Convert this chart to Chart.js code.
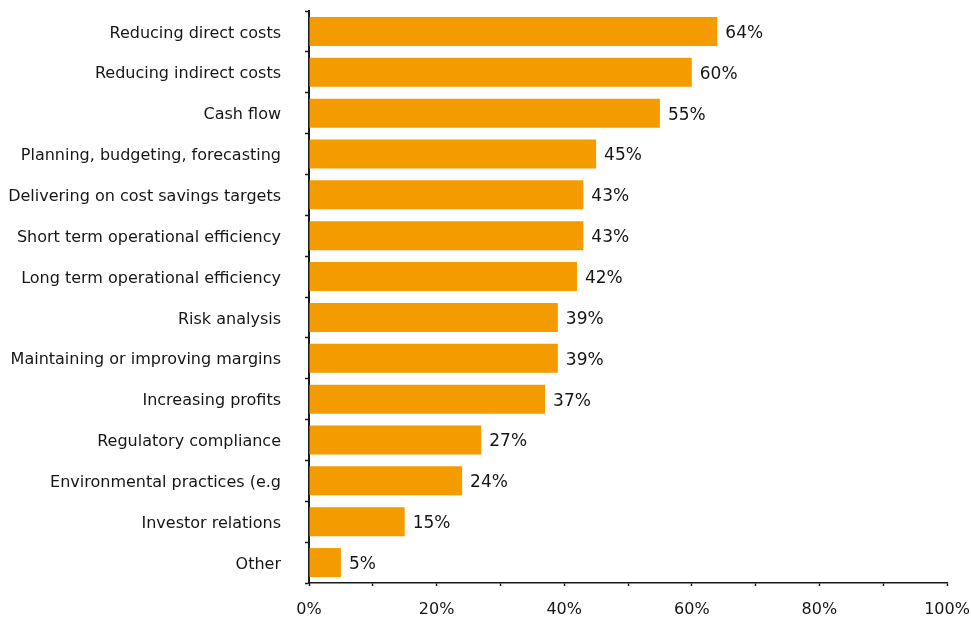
<!DOCTYPE html>
<html>
<head>
<meta charset="utf-8">
<script src="https://cdn.jsdelivr.net/npm/chart.js@4"></script>
<style>
  html, body { margin: 0; padding: 0; background: #fff; }
  #wrap { width: 971px; height: 618px; position: relative; }
</style>
</head>
<body>
<div id="wrap"><canvas id="chart"></canvas></div>
<script>
// categories and shares (percent of respondents)
const categories = [
  'Reducing direct costs',
  'Reducing indirect costs',
  'Cash flow',
  'Planning, budgeting, forecasting',
  'Delivering on cost savings targets',
  'Short term operational efficiency',
  'Long term operational efficiency',
  'Risk analysis',
  'Maintaining or improving margins',
  'Increasing profits',
  'Regulatory compliance',
  'Environmental practices (e.g',
  'Investor relations',
  'Other'
];
const shares = [64, 60, 55, 45, 43, 43, 42, 39, 39, 37, 27, 24, 15, 5];
const xTicks = [0, 20, 40, 60, 80, 100];

const FONT = '"DejaVu Sans", sans-serif';
const TEXT = '#161616';
const BAR = '#f49b00';

// value labels just past the end of each bar
const barLabels = {
  id: 'barLabels',
  afterDatasetsDraw(chart) {
    const ctx = chart.ctx;
    const meta = chart.getDatasetMeta(0);
    ctx.save();
    ctx.font = '17px ' + FONT;
    ctx.fillStyle = TEXT;
    ctx.textAlign = 'left';
    ctx.textBaseline = 'middle';
    meta.data.forEach((bar, i) => {
      ctx.fillText(shares[i] + '%', bar.x + 8, bar.y + 2);
    });
    ctx.restore();
  }
};

new Chart(document.getElementById('chart'), {
  type: 'bar',
  data: {
    labels: categories,
    datasets: [{
      data: shares,
      backgroundColor: BAR,
      borderWidth: 0,
      categoryPercentage: 1,
      barPercentage: 0.71
    }]
  },
  options: {
    indexAxis: 'y',
    responsive: true,
    maintainAspectRatio: false,
    animation: false,
    layout: { padding: { top: 11, right: 0, left: 0, bottom: 0 } },
    plugins: {
      legend: { display: false },
      tooltip: { enabled: false }
    },
    scales: {
      y: {
        offset: true,
        grid: {
          offset: true,
          drawOnChartArea: false,
          tickLength: 4,
          tickColor: '#1a1a1a',
          tickWidth: 1.5
        },
        border: { color: '#1a1a1a', width: 2 },
        ticks: {
          color: TEXT,
          font: { family: FONT, size: 16 },
          padding: 24,
          labelOffset: 2,
          autoSkip: false
        },
        afterFit(scale) {
          scale.width = 309;
          // the tick padding shouldn't push the plot down
          scale.paddingTop = 0;
          scale.paddingBottom = 0;
        }
      },
      x: {
        min: 0,
        max: 100,
        grid: {
          drawOnChartArea: false,
          tickLength: 3,
          tickColor: '#1a1a1a',
          tickWidth: 1.5
        },
        border: { color: '#1a1a1a', width: 1.5 },
        ticks: {
          stepSize: 10,
          autoSkip: false,
          maxRotation: 0,
          color: TEXT,
          font: { family: FONT, size: 16 },
          padding: 14,
          callback: v => xTicks.includes(v) ? v + '%' : ''
        },
        afterFit(scale) {
          scale.height = 35;
          scale.paddingLeft = 0;
          scale.paddingRight = 24;
        }
      }
    }
  },
  plugins: [barLabels]
});
</script>
</body>
</html>
